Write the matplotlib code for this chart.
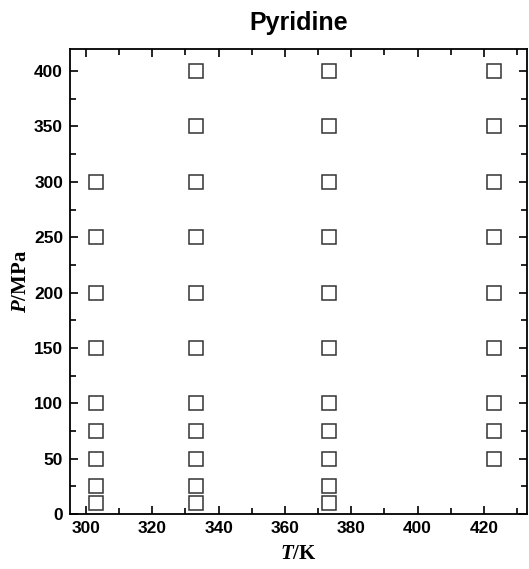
import numpy as np
import matplotlib
matplotlib.use("Agg")
import matplotlib.pyplot as plt
from matplotlib.ticker import MultipleLocator

t_303 = 303.15
p_303 = [10, 25, 50, 75, 100, 150, 200, 250, 300]
t_333 = 333.15
p_333 = [10, 25, 50, 75, 100, 150, 200, 250, 300, 350, 400]
t_373 = 373.15
p_373 = [10, 25, 50, 75, 100, 150, 200, 250, 300, 350, 400]
t_423 = 423.15
p_423 = [50, 75, 100, 150, 200, 250, 300, 350, 400]

plt.rcParams['mathtext.fontset'] = 'custom'
plt.rcParams['mathtext.it'] = 'Liberation Serif:italic:bold'
plt.rcParams['mathtext.rm'] = 'Liberation Serif:bold'

fig = plt.figure(figsize=(5.29, 5.69), dpi=100)
ax = fig.add_axes([0.1323, 0.0967, 0.864, 0.8172])

for t, p in [(t_303, p_303), (t_333, p_333), (t_373, p_373), (t_423, p_423)]:
    ax.plot([t] * len(p), p, linestyle='none', marker='s', markersize=10,
            markerfacecolor='white', markeredgecolor='#333333', markeredgewidth=1.1)

ax.set_xlim(295.2, 433)
ax.set_ylim(0, 420)
ax.xaxis.set_major_locator(MultipleLocator(20))
ax.xaxis.set_minor_locator(MultipleLocator(10))
ax.yaxis.set_major_locator(MultipleLocator(50))
ax.yaxis.set_minor_locator(MultipleLocator(25))
ax.tick_params(which='both', direction='in', top=True, right=True, width=1.2)
ax.tick_params(which='major', length=6, pad=5)
ax.tick_params(which='minor', length=4)
for lab in ax.get_xticklabels() + ax.get_yticklabels():
    lab.set_fontfamily('Liberation Sans')
    lab.set_fontweight('bold')
    lab.set_fontsize(12.5)
for s in ax.spines.values():
    s.set_linewidth(1.3)

ax.set_title('Pyridine', fontfamily='Liberation Sans', fontweight='bold', fontsize=18, pad=14)
ax.set_xlabel(r'$T$/K', fontfamily='Liberation Serif', fontweight='bold', fontsize=15, labelpad=6)
ax.set_ylabel(r'$P$/MPa', fontfamily='Liberation Serif', fontweight='bold', fontsize=15, labelpad=2)

fig.savefig('out.png', dpi=100)
